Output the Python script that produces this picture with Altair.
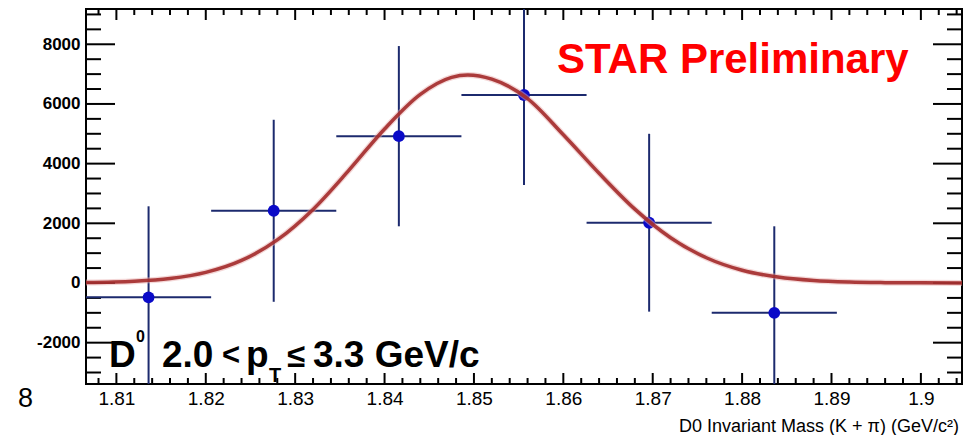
import altair as alt
import pandas as pd

# ---- data ----
mass = [1.8136, 1.8276, 1.8416, 1.8556, 1.8696, 1.8836]
counts = [-480, 2420, 4920, 6300, 2020, -1000]
count_err = [3050, 3050, 3020, 3020, 2980, 2900]
mass_err = [0.007, 0.007, 0.007, 0.007, 0.007, 0.007]

fit_mass = [1.8066, 1.812, 1.816, 1.820, 1.824, 1.828, 1.832, 1.836, 1.840, 1.844,
            1.8475, 1.8493, 1.852, 1.856, 1.860, 1.864, 1.868, 1.872, 1.876, 1.880,
            1.884, 1.888, 1.892, 1.896, 1.900, 1.9046]
fit_counts = [13, 56, 148, 354, 755, 1443, 2466, 3773, 5163, 6322,
              6892, 6970, 6830, 6180, 4968, 3678, 2476, 1518, 846, 428,
              198, 83, 32, 12, 4, 0]

x_major_ticks = [1.81, 1.82, 1.83, 1.84, 1.85, 1.86, 1.87, 1.88, 1.89, 1.90]
y_major_ticks = [-2000, 0, 2000, 4000, 6000, 8000]
x_minor_ticks = [round(1.808 + 0.002 * i, 3) for i in range(49)]
x_minor_ticks = [v for v in x_minor_ticks if all(abs(v - m) > 1e-6 for m in x_major_ticks)]
y_minor_ticks = [v for v in range(-3000, 9001, 500) if v not in y_major_ticks]

X_DOMAIN = [1.8066, 1.9046]
Y_DOMAIN = [-3385, 9182]
W, H = 876, 375

xs = alt.Scale(domain=X_DOMAIN, nice=False, zero=False)
ys = alt.Scale(domain=Y_DOMAIN, nice=False, zero=False)

X_AX = alt.Axis(values=x_major_ticks, format="~g", ticks=False, domain=False,
                grid=False, labelFont="Liberation Sans Narrow, Liberation Sans",
                labelFontSize=19, labelColor="black", labelPadding=5, title=None)
Y_AX = alt.Axis(values=y_major_ticks, labelExpr="'' + datum.value", ticks=False,
                domain=False, grid=False, labelFont="Liberation Sans",
                labelFontWeight="bold", labelFontSize=17, labelColor="black",
                labelPadding=6, title=None)

def X(field, **kw):
    return alt.X(field, scale=xs, axis=X_AX, title=None, **kw)

def Y(field, **kw):
    return alt.Y(field, scale=ys, axis=Y_AX, title=None, **kw)

pts = pd.DataFrame({"m": mass, "c": counts, "ce": count_err, "me": mass_err})
pts["lo"] = pts["m"] - pts["me"]
pts["hi"] = pts["m"] + pts["me"]
pts["clo"] = pts["c"] - pts["ce"]
pts["chi"] = pts["c"] + pts["ce"]
fit = pd.DataFrame({"m": fit_mass, "c": fit_counts})

NAVY = "#1c2a6e"

xmaj = pd.DataFrame({"v": x_major_ticks})
xmin = pd.DataFrame({"v": x_minor_ticks})
ymaj = pd.DataFrame({"v": y_major_ticks})
ymin = pd.DataFrame({"v": y_minor_ticks})

def xticks(df, length):
    b = alt.Chart(df).mark_rule(color="black", strokeWidth=2).encode(
        x=X("v:Q"), y=alt.value(H), y2=alt.value(H - length))
    t = alt.Chart(df).mark_rule(color="black", strokeWidth=2).encode(
        x=X("v:Q"), y=alt.value(0), y2=alt.value(length))
    return [b, t]

def yticks(df, length):
    l = alt.Chart(df).mark_rule(color="black", strokeWidth=2).encode(
        y=Y("v:Q"), x=alt.value(0), x2=alt.value(length))
    r = alt.Chart(df).mark_rule(color="black", strokeWidth=2).encode(
        y=Y("v:Q"), x=alt.value(W), x2=alt.value(W - length))
    return [l, r]

tick_layers = xticks(xmaj, 11) + xticks(xmin, 6) + yticks(ymaj, 29) + yticks(ymin, 15)

h_err = alt.Chart(pts).mark_rule(color=NAVY, strokeWidth=2, clip=True).encode(
    x=X("lo:Q"), x2="hi:Q", y=Y("c:Q"))
v_err = alt.Chart(pts).mark_rule(color=NAVY, strokeWidth=2, clip=True).encode(
    x=X("m:Q"), y=Y("clo:Q"), y2="chi:Q")
dots = alt.Chart(pts).mark_circle(color="#0a0ac8", size=140, opacity=1).encode(
    x=X("m:Q"), y=Y("c:Q"))

glow = alt.Chart(fit).mark_line(color="#eab0b0", strokeWidth=6, opacity=0.5,
                                interpolate="monotone", clip=True).encode(
    x=X("m:Q"), y=Y("c:Q"))
curve = alt.Chart(fit).mark_line(color="#a32a2a", strokeWidth=3.5, opacity=0.9,
                                 interpolate="monotone", clip=True).encode(
    x=X("m:Q"), y=Y("c:Q"))

def label(text, x, y, size, weight="normal", color="black", align="left",
          font="Liberation Sans"):
    return alt.Chart(pd.DataFrame({"t": [text]})).mark_text(
        align=align, baseline="alphabetic", fontSize=size, fontWeight=weight,
        color=color, font=font).encode(x=alt.value(x), y=alt.value(y), text="t:N")

texts = [
    label("STAR Preliminary", 471, 64, 42, weight="bold", color="#ff0000"),
    label("D", 23, 358, 37, weight="bold"),
    label("0", 50, 333, 16, weight="bold"),
    label("2.0", 76, 358, 37, weight="bold"),
    label("<", 136, 356, 31, weight="bold"),
    label("p", 160, 358, 37, weight="bold"),
    label("T", 183, 373, 20, weight="bold"),
    label("\u2264", 201, 358, 33, weight="bold"),
    label("3.3 GeV/c", 227, 358, 37, weight="bold"),
    label("D0 Invariant Mass (K + \u03c0) (GeV/c\u00b2)", 873, 423, 18, align="right"),
    label("8", -68, 398, 27),
]

chart = alt.layer(
    *tick_layers, h_err, v_err, dots, glow, curve, *texts
).properties(
    width=W, height=H,
    autosize=alt.AutoSizeParams(type="none"),
    padding={"left": 86, "top": 9, "right": 14, "bottom": 51},
    background="white",
).configure_view(stroke="black", strokeWidth=2)

chart.save("out.html", embed_options={"renderer": "svg", "actions": False})
